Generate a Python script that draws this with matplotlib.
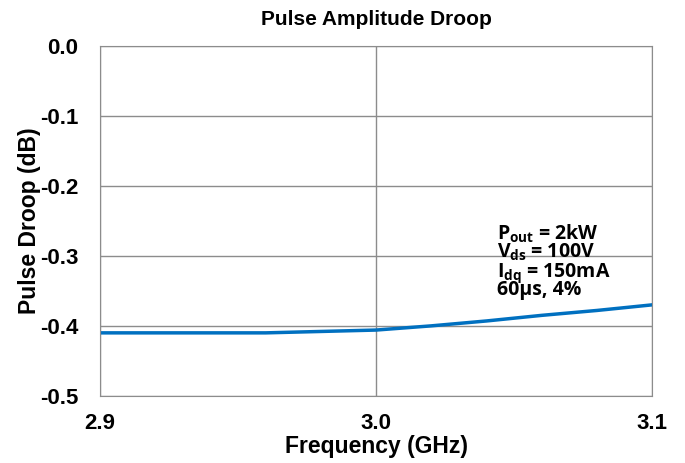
import matplotlib
matplotlib.use('Agg')
import matplotlib.pyplot as plt

freq_ghz = [2.90, 2.92, 2.94, 2.96, 2.98, 3.00, 3.02, 3.04, 3.06, 3.08, 3.10]
droop_db = [-0.410, -0.410, -0.410, -0.410, -0.408, -0.406, -0.400, -0.393, -0.385, -0.378, -0.370]

x_ticks = [2.9, 3.0, 3.1]
x_tick_labels = ['2.9', '3.0', '3.1']
y_ticks = [0.0, -0.1, -0.2, -0.3, -0.4, -0.5]
y_tick_labels = ['0.0', '-0.1', '-0.2', '-0.3', '-0.4', '-0.5']

note_lines = [r'$P_{out}$ = 2kW', r'$V_{ds}$ = 100V', r'$I_{dq}$ = 150mA', '60µs, 4%']

plt.rcParams['font.family'] = ['Liberation Sans', 'DejaVu Sans']
plt.rcParams['font.weight'] = 'bold'
plt.rcParams['mathtext.fontset'] = 'custom'
plt.rcParams['mathtext.rm'] = 'Open Sans:bold'
plt.rcParams['mathtext.it'] = 'Open Sans:bold'
plt.rcParams['mathtext.bf'] = 'Open Sans:bold'

fig = plt.figure(figsize=(6.85, 4.63), dpi=100)
ax = fig.add_axes([0.146, 0.145, 0.806, 0.756])

ax.plot(freq_ghz, droop_db, color='#0070C0', lw=2.5)

ax.set_xlim(2.9, 3.1)
ax.set_ylim(-0.5, 0.0)
ax.set_xticks(x_ticks)
ax.set_xticklabels(x_tick_labels, fontsize=16, fontweight='bold')
ax.set_yticks(y_ticks)
ax.set_yticklabels(y_tick_labels, fontsize=16, fontweight='bold')
ax.tick_params(axis='y', length=0, pad=15.5)
ax.tick_params(axis='x', length=0, pad=12)
ax.grid(True, color='#8c8c8c', lw=1)
for s in ax.spines.values():
    s.set_color('#8c8c8c')

ax.set_title('Pulse Amplitude Droop', fontsize=15, fontweight='bold', pad=15)
ax.set_xlabel('Frequency (GHz)', fontsize=16.5, fontweight='bold', labelpad=1)
ax.set_ylabel('Pulse Droop (dB)', fontsize=16.5, fontweight='bold', labelpad=-1)

for i, line in enumerate(note_lines):
    ax.text(3.0438, -0.2771 - i * 0.0262, line, fontsize=14, fontfamily='Open Sans',
            fontweight='bold', va='baseline', ha='left')

fig.savefig('out.png', dpi=100)
